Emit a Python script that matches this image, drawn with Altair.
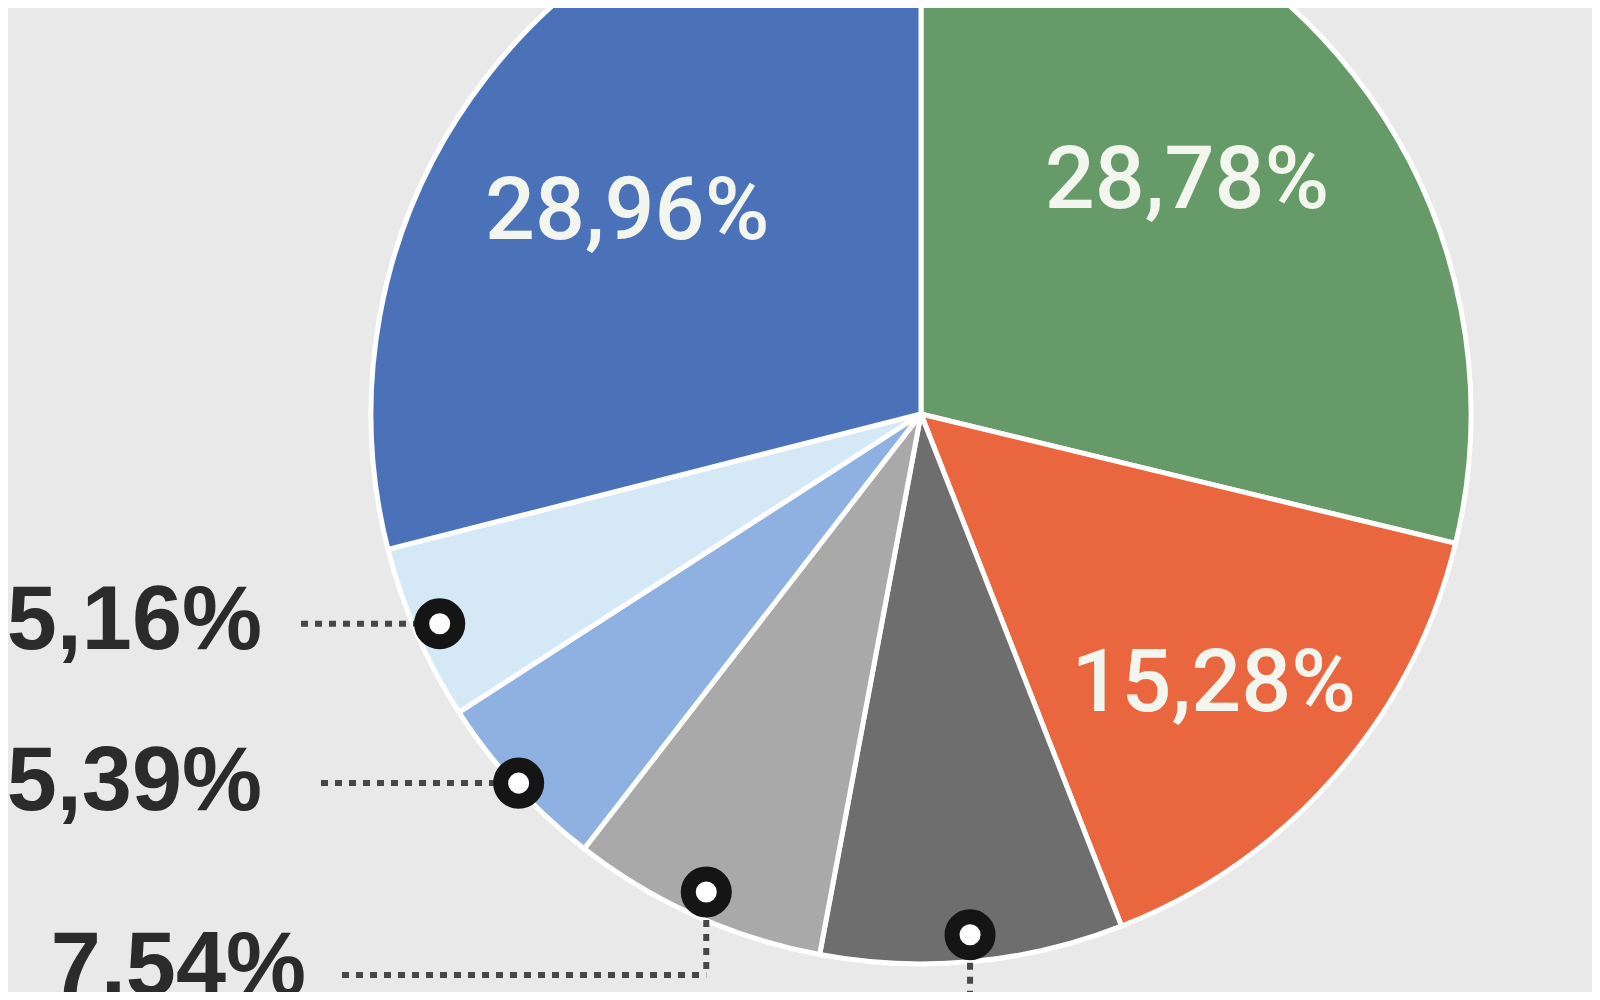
import altair as alt
import numpy as np
import pandas as pd

# ---- data (clockwise from 12 o'clock) ----
slices = ["28,78%", "15,28%", "8,89%", "7,54%", "5,39%", "5,16%", "28,96%"]
shares = [28.78, 15.28, 8.89, 7.54, 5.39, 5.16, 28.96]
slice_colors = ["#679a69", "#e9663f", "#6e6e6e", "#a9a9a9", "#8fb1e2", "#d5e8f6", "#4b72b9"]
inside_label = [True, True, False, False, False, False, True]

# ---- layout (pixels, relative to the pie centre) ----
W, H = 1584, 984
CX, CY = 913, 406
R = 550
BG = "#e9e9e9"
# inner labels: (distance from centre, angle nudge in degrees)
INNER_LABEL = {"28,78%": (353, -2.9), "15,28%": (399, 1.7), "28,96%": (356, -3.5)}
MARKER_R = {"8,89%": 523, "7,54%": 524, "5,39%": 546, "5,16%": 525}
# label: (text right edge x, text y or None, leader start x, leader y or None)
OUT_LABEL = {
    "5,16%": (-659, 208, -620, None),
    "5,39%": (-659, None, -600, None),
    "7,54%": (-615, 554, -579, 561),
}
DROP_ONLY = {"8,89%": 600}

df = pd.DataFrame({
    "slice": slices,
    "share": shares,
    "idx": list(range(len(slices))),
    "inside": inside_label,
})
cum = np.cumsum(df["share"].values)
df["mid"] = (cum - df["share"].values / 2) / df["share"].sum() * 2 * np.pi

# inside labels
ins = df[df["inside"]].copy()
ins["r"] = ins["slice"].map(lambda s: INNER_LABEL[s][0])
ins["a"] = ins["mid"] + ins["slice"].map(lambda s: np.radians(INNER_LABEL[s][1]))
ins["x"] = ins["r"] * np.sin(ins["a"])
ins["y"] = -ins["r"] * np.cos(ins["a"])

# markers
mk = df[~df["inside"]].copy()
mk["r"] = mk["slice"].map(MARKER_R)
mk["x"] = mk["r"] * np.sin(mk["mid"])
mk["y"] = -mk["r"] * np.cos(mk["mid"])

# leader segments and outside labels
segs = []
outs = []
for _, row in mk.iterrows():
    s = row["slice"]
    if s in OUT_LABEL:
        tx, ty, lx0, ly = OUT_LABEL[s]
        if ly is None:
            segs.append({"x": lx0, "y": row["y"], "x2": row["x"], "y2": row["y"]})
        else:
            segs.append({"x": lx0, "y": ly, "x2": row["x"], "y2": ly})
            segs.append({"x": row["x"], "y": row["y"], "x2": row["x"], "y2": ly})
        outs.append({"slice": s, "x": tx, "y": row["y"] if ty is None else ty})
    elif s in DROP_ONLY:
        segs.append({"x": row["x"], "y": row["y"], "x2": row["x"], "y2": DROP_ONLY[s]})
segs = pd.DataFrame(segs)
outs = pd.DataFrame(outs)

xs = alt.Scale(domain=[-CX, W - CX], nice=False, zero=False)
ys = alt.Scale(domain=[-CY, H - CY], reverse=True, nice=False, zero=False)

pie = alt.Chart(df).mark_arc(radius=R, stroke="white", strokeWidth=5).encode(
    theta=alt.Theta("share:Q"),
    order=alt.Order("idx:Q", sort="ascending"),
    color=alt.Color("slice:N", scale=alt.Scale(domain=slices, range=slice_colors), legend=None),
    x=alt.value(CX),
    y=alt.value(CY),
)

rules = alt.Chart(segs).mark_rule(color="#474747", strokeWidth=6, strokeDash=[7, 7]).encode(
    x=alt.X("x:Q", scale=xs, axis=None),
    y=alt.Y("y:Q", scale=ys, axis=None),
    x2="x2:Q",
    y2="y2:Q",
)

markers = alt.Chart(mk).mark_point(
    shape="circle", filled=True, fill="white", stroke="#151515",
    strokeWidth=15, size=1300, opacity=1, fillOpacity=1, strokeOpacity=1,
).encode(
    x=alt.X("x:Q", scale=xs, axis=None),
    y=alt.Y("y:Q", scale=ys, axis=None),
)

inner_text = alt.Chart(ins).mark_text(
    font="Roboto, Liberation Sans, sans-serif", fontWeight=500,
    fontSize=88, color="#f3f6ef", align="center", baseline="middle",
).encode(
    x=alt.X("x:Q", scale=xs, axis=None),
    y=alt.Y("y:Q", scale=ys, axis=None),
    text="slice:N",
)

outer_text = alt.Chart(outs).mark_text(
    font="Liberation Sans, Arial, sans-serif", fontWeight="bold",
    fontSize=90, color="#2b2b2b", align="right", baseline="middle",
).encode(
    x=alt.X("x:Q", scale=xs, axis=None),
    y=alt.Y("y:Q", scale=ys, axis=None),
    text="slice:N",
)

chart = alt.layer(pie, rules, markers, inner_text, outer_text).properties(
    width=W, height=H, background=BG, padding=0,
    autosize=alt.AutoSizeParams(type="none"),
).configure_view(stroke=None)

chart.save("out.html", embed_options={"renderer": "svg", "actions": False})
